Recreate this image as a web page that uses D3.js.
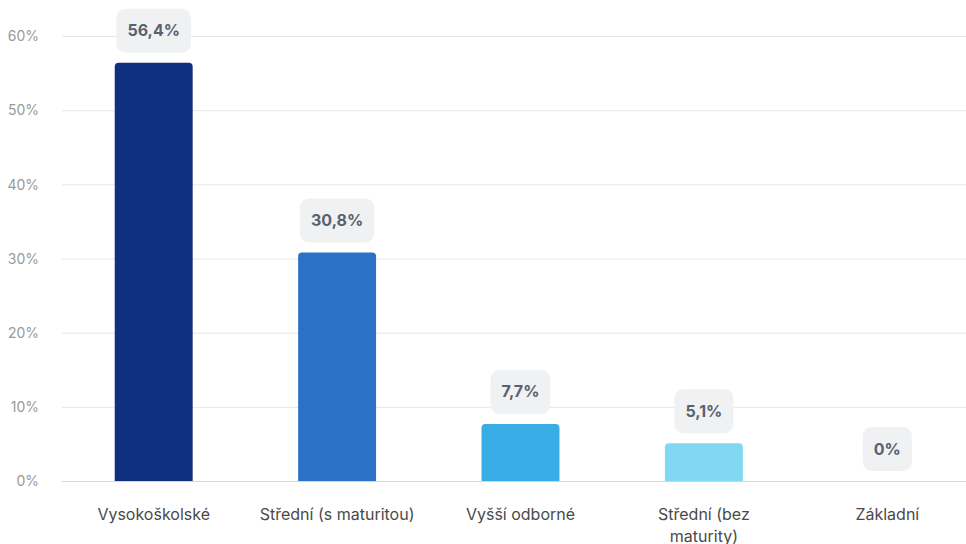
<!DOCTYPE html>
<html><head><meta charset="utf-8">
<script src="https://cdn.jsdelivr.net/npm/d3@7"></script>
<style>body{margin:0;background:#fff;}svg{display:block;font-family:Inter, "Noto Sans", sans-serif;}</style>
</head><body><svg id="c" width="966" height="544"></svg>
<script>
const categories = ["Vysokoškolské", "Střední (s maturitou)", "Vyšší odborné", "Střední (bez maturity)", "Základní"];
const tickLabelLines = [["Vysokoškolské"], ["Střední (s maturitou)"], ["Vyšší odborné"], ["Střední (bez", "maturity)"], ["Základní"]];
const values = [56.4, 30.8, 7.7, 5.1, 0];
const valueLabels = ["56,4%", "30,8%", "7,7%", "5,1%", "0%"];
const colors = ["#112f7f", "#2a72c5", "#38ace4", "#80d8f2", "#c9eef9"];
const yTicks = [0, 10, 20, 30, 40, 50, 60];

(function(){
const svg = d3.select("#c");
const pLeft = 62, pRight = 979, pTop = 36, pBottom = 481;
const x = d3.scaleBand().domain(categories).range([pLeft, pRight]).paddingInner(0.575).paddingOuter(0.2875);
const y = d3.scaleLinear().domain([0, 60]).range([pBottom, pTop]);

svg.append("g").selectAll("line").data(yTicks.filter(d=>d>0)).join("line")
  .attr("x1", pLeft).attr("x2", 966).attr("y1", d=>y(d)+0.5).attr("y2", d=>y(d)+0.5)
  .attr("stroke", "#e6e6e6").attr("stroke-width", 1);

const yAxis = d3.axisLeft(y).tickValues(yTicks).tickFormat(d=>d+"%").tickSize(0).tickPadding(0);
const ya = svg.append("g").attr("transform", `translate(39,0)`).call(yAxis);
ya.select(".domain").remove();
ya.selectAll("text").attr("fill", "#999").style("font-size", "14px").style("font-family", "Inter, sans-serif").attr("dy", "0.34em");

function topRounded(x0, y0, w, h, r) {
  if (h <= 0) return "";
  r = Math.min(r, h, w/2);
  return `M${x0},${y0+h}V${y0+r}Q${x0},${y0} ${x0+r},${y0}H${x0+w-r}Q${x0+w},${y0} ${x0+w},${y0+r}V${y0+h}Z`;
}
svg.append("g").selectAll("path").data(values).join("path")
  .attr("d", (d,i)=>topRounded(x(categories[i]), y(d), x.bandwidth(), y(0)-y(d), 4))
  .attr("fill", (d,i)=>colors[i]);

svg.append("line").attr("x1", pLeft).attr("x2", 966).attr("y1", y(0)+0.5).attr("y2", y(0)+0.5)
  .attr("stroke", "#ccd6eb").attr("stroke-width", 1);

const lg = svg.append("g");
values.forEach((d,i)=>{
  const cx = x(categories[i]) + x.bandwidth()/2;
  const cy = y(d) - 10 - 22;
  const g = lg.append("g");
  const rect = g.append("rect").attr("fill", "#f0f1f2").attr("rx", 9).attr("ry", 9);
  const t = g.append("text").attr("x", cx).attr("y", cy).attr("text-anchor", "middle").attr("dy", "0.35em")
    .attr("fill", "#596270").style("font-size", "16px").style("font-weight", "700").text(valueLabels[i]);
  const w = t.node().getComputedTextLength() + 22;
  rect.attr("x", cx - w/2).attr("y", cy - 22).attr("width", w).attr("height", 44);
});

const xg = svg.append("g");
tickLabelLines.forEach((lines,i)=>{
  const cx = x(categories[i]) + x.bandwidth()/2;
  const t = xg.append("text").attr("x", cx).attr("y", 520).attr("text-anchor", "middle")
    .attr("fill", "#4a4a4a").style("font-size", "16px");
  lines.forEach((l,j)=>t.append("tspan").attr("x", cx).attr("dy", j===0?0:22).text(l));
});
})();
</script></body></html>
